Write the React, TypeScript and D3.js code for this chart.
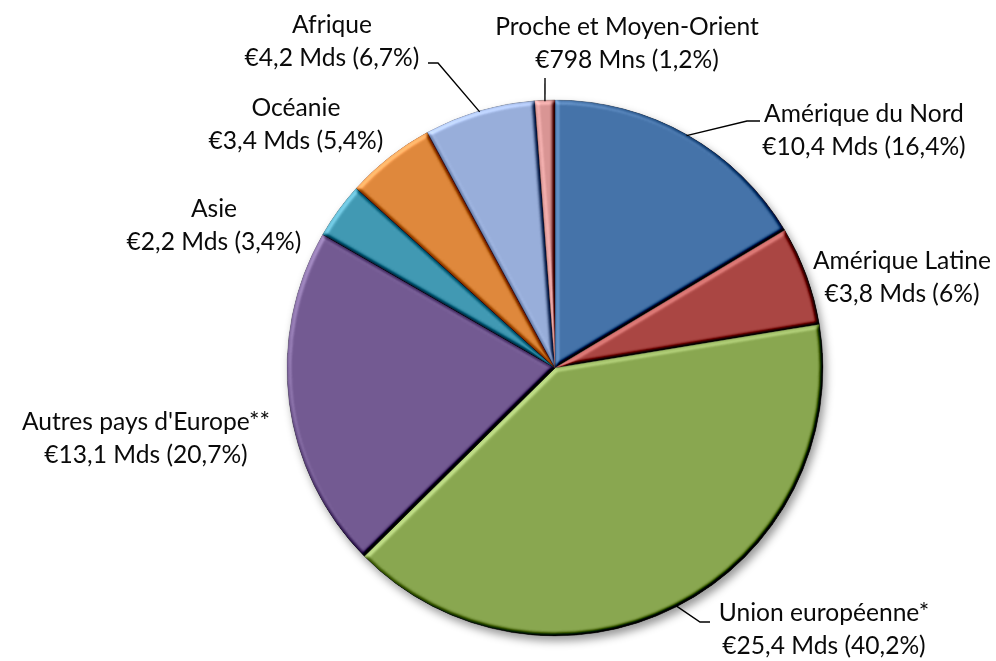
import React from "react";
import * as d3 from "d3";

const categories = [
  "Amérique du Nord",
  "Amérique Latine",
  "Union européenne*",
  "Autres pays d'Europe**",
  "Asie",
  "Océanie",
  "Afrique",
  "Proche et Moyen-Orient",
];
const percents = [16.4, 6, 40.2, 20.7, 3.4, 5.4, 6.7, 1.2];
const amountLabels = [
  "€10,4 Mds",
  "€3,8 Mds",
  "€25,4 Mds",
  "€13,1 Mds",
  "€2,2 Mds",
  "€3,4 Mds",
  "€4,2 Mds",
  "€798 Mns",
];
const colors = [
  "#4573A9",
  "#AA4643",
  "#89A750",
  "#735A92",
  "#4199B3",
  "#DF883C",
  "#98AEDA",
  "#D99594",
];

// label layout: center x, first baseline y, optional leader (elbow, end)
const labelLayout: { x: number; y: number; leader?: [number, number][] }[] = [
  { x: 864, y: 122, leader: [[747, 121], [760, 121]] },
  { x: 902, y: 269 },
  { x: 824, y: 621, leader: [[700, 622], [710, 622]] },
  { x: 146, y: 430 },
  { x: 214, y: 217 },
  { x: 296, y: 116 },
  { x: 332, y: 33, leader: [[438, 63], [428, 63]] },
  { x: 627, y: 35, leader: [[545, 78]] },
];

const W = 996;
const H = 661;
const cx = 555;
const cy = 368;
const R = 268;

const fmtPct = (p: number) => String(p).replace(".", ",") + "%";

export default function App() {
  const data = categories.map((c, i) => ({ c, p: percents[i], a: amountLabels[i], i }));
  const pie = d3
    .pie<(typeof data)[number]>()
    .sort(null)
    .value((d) => d.p)
    .startAngle(0)
    .endAngle(2 * Math.PI);
  const arcs = pie(data);
  const arc = d3.arc<d3.PieArcDatum<(typeof data)[number]>>().innerRadius(0).outerRadius(R);
  const edge = d3.arc<d3.PieArcDatum<(typeof data)[number]>>().innerRadius(R - 1).outerRadius(R - 1);

  return (
    <svg
      width={W}
      height={H}
      style={{ position: "absolute", left: 0, top: 0, background: "#fff" }}
      fontFamily="Lato, Carlito, Calibri, sans-serif"
    >
      <defs>
        <filter id="bevel" x="-5%" y="-5%" width="110%" height="110%" colorInterpolationFilters="sRGB">
          <feGaussianBlur in="SourceAlpha" stdDeviation="2.2" result="blur" />
          <feDiffuseLighting in="blur" surfaceScale="4.5" diffuseConstant="1" lightingColor="#ffffff" result="light">
            <feDistantLight azimuth={225} elevation={50} />
          </feDiffuseLighting>
          <feComposite in="SourceGraphic" in2="light" operator="arithmetic" k1={0} k2={1} k3={0.9} k4={-0.689} result="lit" />
          <feComposite in="lit" in2="SourceAlpha" operator="in" />
        </filter>
        <filter id="shadow" x="-10%" y="-10%" width="125%" height="125%" colorInterpolationFilters="sRGB">
          <feDropShadow dx={3} dy={5} stdDeviation={4} floodColor="#000" floodOpacity={0.4} />
        </filter>
      </defs>
      <g filter="url(#shadow)">
        <g transform={`translate(${cx},${cy})`}>
          {arcs.map((a) => (
            <path
              key={a.data.c}
              d={arc(a) || ""}
              fill={colors[a.data.i]}
              stroke={d3.color(colors[a.data.i])!.darker(0.8).formatHex()}
              strokeWidth={0.6}
              filter="url(#bevel)"
            />
          ))}
        </g>
      </g>
      {arcs.map((a) => {
        const L = labelLayout[a.data.i];
        if (!L.leader) return null;
        const [ex, ey] = edge.centroid(a);
        const pts: [number, number][] = [[cx + ex, cy + ey], ...L.leader];
        return (
          <path
            key={"l" + a.data.c}
            d={d3.line()(pts) || ""}
            fill="none"
            stroke="#000"
            strokeWidth={1.4}
          />
        );
      })}
      {arcs.map((a) => {
        const L = labelLayout[a.data.i];
        return (
          <text key={"t" + a.data.c} x={L.x} y={L.y} textAnchor="middle" fontSize={24.6} fill="#0a0a0a">
            <tspan x={L.x}>{a.data.c}</tspan>
            <tspan x={L.x} dy={33}>
              {`${a.data.a} (${fmtPct(a.data.p)})`}
            </tspan>
          </text>
        );
      })}
    </svg>
  );
}
